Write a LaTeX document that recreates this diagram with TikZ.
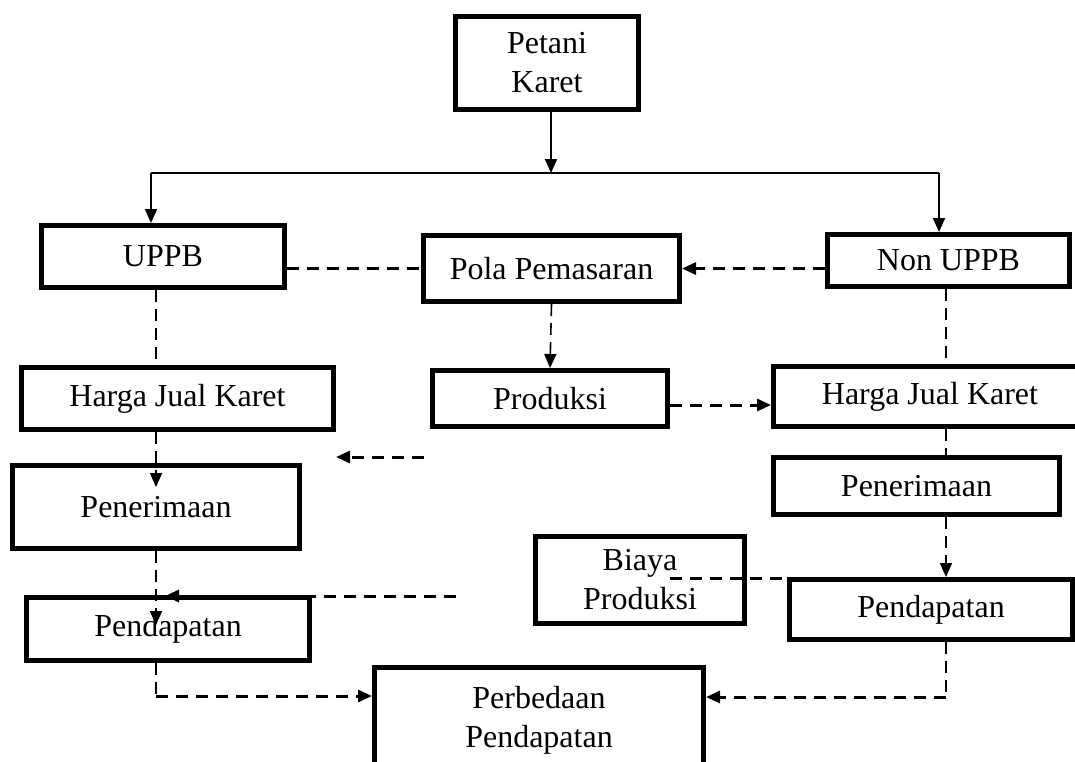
\documentclass[tikz,border=0pt]{standalone}
\usepackage{fontspec}
\setmainfont{Liberation Serif}
\usetikzlibrary{arrows.meta}

\begin{document}
\begin{tikzpicture}[x=0.5pt, y=-0.5pt,
    box/.style={draw, line width=2.5pt, inner sep=0pt, align=center, font=\fontsize{16}{19.5}\selectfont},
    arr/.style={-{Triangle[length=7pt,width=6pt]}},
    sline/.style={line width=1pt},
    dline/.style={line width=1.5pt, dash pattern=on 6pt off 4pt},
    vline/.style={line width=0.8pt, dash pattern=on 6pt off 3.5pt}]
    \useasboundingbox (0,0) rectangle (1075,761);
    \clip (0,0) rectangle (1075,761);

    \node[box, minimum width=91.5pt, minimum height=46.5pt] (petani) at (547,63) {Petani\\Karet};

    \node[box, minimum width=121.5pt, minimum height=31pt] (uppb) at (163,256.5) {UPPB};
    \node[box, minimum width=128pt, minimum height=33pt] (pola) at (551.5,268.5) {Pola Pemasaran};
    \node[box, minimum width=121pt, minimum height=26pt] (nonuppb) at (948.5,260.5) {Non UPPB};

    \node[box, minimum width=156pt, minimum height=31pt] (hargaL) at (177.5,398.5) {Harga Jual Karet};
    \node[box, minimum width=117.5pt, minimum height=28pt] (produksi) at (550,398.5) {Produksi};
    \node[box, minimum width=156.5pt, minimum height=30pt] (hargaR) at (930,396.5) {Harga Jual Karet};

    \node[box, minimum width=143.5pt, minimum height=41.5pt] (penerL) at (156,507) {Penerimaan};
    \node[box, minimum width=143pt, minimum height=28.5pt] (penerR) at (916.5,486) {Penerimaan};
    \node[box, minimum width=104.5pt, minimum height=43.5pt] (biaya) at (640,580) {Biaya\\Produksi};
    \node[box, minimum width=141.5pt, minimum height=31.5pt] (pendL) at (168,629) {Pendapatan};
    \node[box, minimum width=141.5pt, minimum height=30pt] (pendR) at (931,609.5) {Pendapatan};
    \node[box, minimum width=164.5pt, minimum height=52.5pt] (beda) at (539,720) {Perbedaan\\Pendapatan};

    \coordinate (split) at (551,173);
    \coordinate (lsplit) at (151,173);
    \coordinate (rsplit) at (939,173);
    \coordinate (lcol) at (156,0);
    \coordinate (rcol) at (946,0);

    \draw[sline, arr] (petani.south -| split) -- (split);
    \draw[sline] (lsplit) -- (rsplit);
    \draw[sline, arr] (lsplit) -- (lsplit |- uppb.north);
    \draw[sline, arr] (rsplit) -- (rsplit |- nonuppb.north);

    \draw[dline] (uppb.east |- pola) -- (pola.west);
    \draw[dline, arr] (nonuppb.west |- pola) -- (pola.east);

    \draw[vline] (uppb.south -| lcol) -- (hargaL.north -| lcol);
    \draw[vline, arr] (pola.south) -- (produksi.north);
    \draw[vline] (nonuppb.south -| rcol) -- (hargaR.north -| rcol);
    \draw[dline, arr] ([yshift=-3.25pt]produksi.east) -- ([yshift=-3.25pt]produksi.east -| hargaR.west);

    \coordinate (restA) at (424,457);
    \coordinate (restB) at (336,457);
    \draw[dline, arr] (restA) -- (restB);

    \coordinate (penerLtip) at (156,487);
    \draw[vline, arr] (hargaL.south -| lcol) -- (penerLtip);
    \draw[vline] (hargaR.south -| rcol) -- (penerR.north -| rcol);

    \coordinate (pendLtip) at (156,625);
    \draw[vline, arr] (penerL.south -| lcol) -- (pendLtip);
    \coordinate (biayaL) at (456,596);
    \coordinate (pendLin) at (165,596);
    \draw[dline, arr] (biayaL) -- (pendLin);

    \draw[vline, arr] (penerR.south -| rcol) -- (pendR.north -| rcol);
    \coordinate (biayaR) at (670,578);
    \draw[dline] (biayaR) -- (biayaR -| pendR.west);

    \coordinate (lturn) at (156,696);
    \draw[vline] (pendL.south -| lcol) -- (lturn);
    \draw[dline, arr] (lturn) -- (lturn -| beda.west);
    \coordinate (rturn) at (946,697);
    \draw[vline] (pendR.south -| rcol) -- (rturn);
    \draw[dline, arr] (rturn) -- (rturn -| beda.east);
\end{tikzpicture}
\end{document}
